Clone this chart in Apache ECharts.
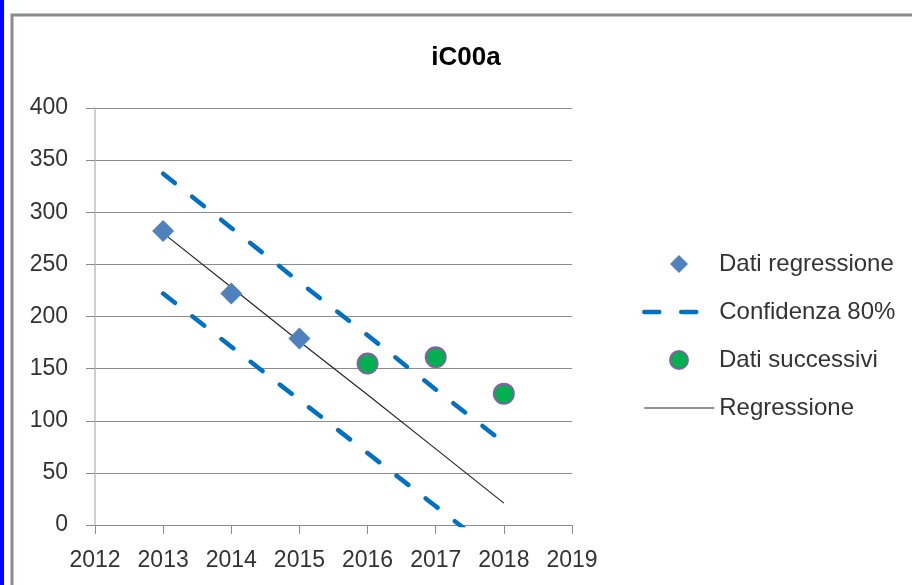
<!DOCTYPE html>
<html>
<head>
<meta charset="utf-8">
<script src="https://cdn.jsdelivr.net/npm/echarts@6/dist/echarts.min.js"></script>
<style>
  html, body { margin: 0; padding: 0; background: #fff; }
  #chart { width: 912px; height: 585px; }
</style>
</head>
<body>
<div id="chart"></div>
<script>
// dati
var bandYears = [2013, 2014, 2015, 2016, 2017, 2018];
var upperBand = [337, 285, 233, 182, 130, 79];
var lowerBand = [222, 171, 120, 69, 18, -33];
var regrLine = [280, 228, 176, 125, 73, 21];

var regrYears = [2013, 2014, 2015];
var regrValues = [282, 222, 179];

var nextYears = [2016, 2017, 2018];
var nextValues = [155, 161, 126];

var yTicks = [0, 50, 100, 150, 200, 250, 300, 350, 400];
var xTicks = [2012, 2013, 2014, 2015, 2016, 2017, 2018, 2019];

var fontName = 'Liberation Sans';
var textColor = '#333333';
var gridColor = '#8c8c8c';

function pairs(xs, ys) {
  return xs.map(function (x, i) { return [x, ys[i]]; });
}

var chart = echarts.init(document.getElementById('chart'), null, { renderer: 'canvas' });

var bandStyle = {
  color: '#0070C0',
  width: 4.5,
  type: [15, 22],
  cap: 'round'
};

var legendText = {
  fontFamily: fontName,
  fontSize: 24,
  lineHeight: 24,
  color: textColor
};

var option = {
  animation: false,
  backgroundColor: '#fff',
  title: {
    text: 'iC00a',
    left: 461,
    textAlign: 'center',
    top: 40,
    textStyle: {
      fontFamily: fontName,
      fontWeight: 'bold',
      fontSize: 26,
      color: '#000'
    }
  },
  graphic: [{
    type: 'rect',
    shape: { x: 0, y: 0, width: 4, height: 585 },
    style: { fill: '#0000ff' },
    silent: true
  }, {
    type: 'rect',
    shape: { x: 12, y: 15, width: 1000, height: 1000 },
    style: { fill: null, stroke: '#8c8c8c', lineWidth: 3 },
    silent: true
  }],
  legend: [{
    // simboli (righe 1 e 3)
    orient: 'vertical',
    left: 664,
    top: 247,
    itemWidth: 18,
    itemHeight: 18,
    itemGap: 72,
    selectedMode: false,
    textStyle: Object.assign({ padding: [0, 0, 0, 26] }, legendText),
    data: [
      { name: 'Dati regressione', icon: 'diamond' },
      { name: 'Dati successivi', icon: 'circle' }
    ]
  }, {
    // linee (righe 2 e 4)
    orient: 'vertical',
    left: 637,
    top: 295,
    itemWidth: 70,
    itemHeight: 18,
    itemGap: 72,
    selectedMode: false,
    textStyle: legendText,
    data: [
      { name: 'Confidenza 80%', itemStyle: { opacity: 0 }, lineStyle: { width: 4.5, type: [15, 22], cap: 'round', color: '#0070C0' } },
      { name: 'Regressione', itemStyle: { opacity: 0 }, lineStyle: { width: 1.2, color: '#262626' } }
    ]
  }],
  grid: {
    left: 95,
    right: 340,
    top: 108,
    bottom: 60
  },
  xAxis: {
    type: 'value',
    min: xTicks[0],
    max: xTicks[xTicks.length - 1],
    interval: 1,
    axisLine: { show: true, lineStyle: { color: gridColor, width: 1 } },
    axisTick: { show: true, length: 9, lineStyle: { color: gridColor } },
    splitLine: { show: false },
    axisLabel: {
      margin: 24,
      fontFamily: fontName,
      fontSize: 23,
      color: textColor,
      formatter: function (v) { return String(v); }
    }
  },
  yAxis: {
    type: 'value',
    min: yTicks[0],
    max: yTicks[yTicks.length - 1],
    interval: 50,
    axisLine: { show: true, lineStyle: { color: '#bfbfbf', width: 1.5 } },
    axisTick: { show: true, length: 9, lineStyle: { color: gridColor } },
    splitLine: { show: true, lineStyle: { color: gridColor, width: 1.2 } },
    axisLabel: {
      margin: 27,
      fontFamily: fontName,
      fontSize: 23,
      color: textColor
    }
  },
  series: [{
    name: 'Confidenza 80%',
    type: 'line',
    data: pairs(bandYears, upperBand),
    symbol: 'none',
    clip: true,
    lineStyle: bandStyle,
    itemStyle: { color: '#0070C0' },
    z: 2
  }, {
    name: 'Confidenza 80%',
    type: 'line',
    data: pairs(bandYears, lowerBand),
    symbol: 'none',
    clip: true,
    lineStyle: bandStyle,
    itemStyle: { color: '#0070C0' },
    z: 2
  }, {
    name: 'Regressione',
    type: 'line',
    data: pairs(bandYears, regrLine),
    symbol: 'none',
    clip: true,
    lineStyle: { color: '#262626', width: 1.2 },
    itemStyle: { color: '#262626' },
    z: 3
  }, {
    name: 'Dati regressione',
    type: 'scatter',
    data: pairs(regrYears, regrValues),
    symbol: 'diamond',
    symbolSize: 22,
    itemStyle: { color: '#4F81BD', opacity: 1 },
    z: 4
  }, {
    name: 'Dati successivi',
    type: 'scatter',
    data: pairs(nextYears, nextValues),
    symbol: 'circle',
    symbolSize: 20,
    itemStyle: { color: '#00B050', borderColor: '#8064A2', borderWidth: 2, opacity: 1 },
    z: 4
  }]
};

chart.setOption(option);
</script>
</body>
</html>
